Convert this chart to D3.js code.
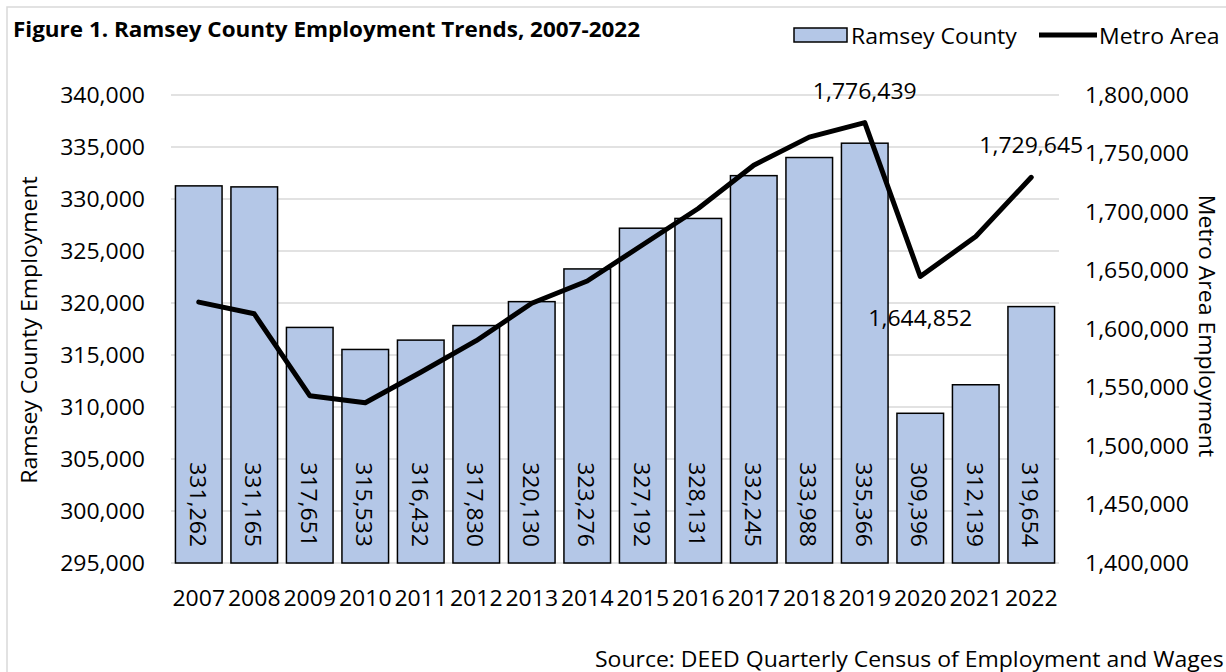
<!DOCTYPE html>
<html><head><meta charset="utf-8">
<script src="https://cdn.jsdelivr.net/npm/d3@7"></script>
<style>
html,body{margin:0;padding:0;background:#fff;}
svg{display:block;font-family:"Open Sans",sans-serif;}
</style></head>
<body><svg id="c" width="1226" height="672"></svg>
<script>
const years = ["2007","2008","2009","2010","2011","2012","2013","2014","2015","2016","2017","2018","2019","2020","2021","2022"];
const ramsey = [331262,331165,317651,315533,316432,317830,320130,323276,327192,328131,332245,333988,335366,309396,312139,319654];
const metro = [1623000,1613000,1543000,1537000,1563000,1590000,1622000,1641000,1672000,1703000,1740000,1764000,1776439,1644852,1679000,1729645];
const metroLabelled = {"2019":"above","2020":"below","2022":"above"};
const leftTicks = [295000,300000,305000,310000,315000,320000,325000,330000,335000,340000];
const rightTicks = [1400000,1450000,1500000,1550000,1600000,1650000,1700000,1750000,1800000];

const svg = d3.select("#c");
const fmt = d3.format(",");
const L = 171, R = 1059, T = 95, B = 563;

// outer frame
svg.append("rect").attr("x",7).attr("y",7).attr("width",1240).attr("height",700)
  .attr("fill","none").attr("stroke","#d9d9d9").attr("stroke-width",1.5);

const x = d3.scaleBand().domain(years).range([L,R]).paddingInner(0.16).paddingOuter(0.08);
const yL = d3.scaleLinear().domain([295000,340000]).range([B,T]);
const yR = d3.scaleLinear().domain([1400000,1800000]).range([B,T]);

// gridlines
svg.append("g").selectAll("line").data(leftTicks).join("line")
  .attr("x1",L).attr("x2",R).attr("y1",d=>yL(d)).attr("y2",d=>yL(d))
  .attr("stroke","#d9d9d9").attr("stroke-width",1.5);

// left axis
const axL = d3.axisLeft(yL).tickValues(leftTicks).tickFormat(fmt).tickSize(0).tickPadding(0);
const gL = svg.append("g").attr("transform",`translate(${L-26},0)`).call(axL);
gL.select(".domain").remove();
gL.selectAll("text").attr("font-size",22).attr("font-family","Open Sans").attr("fill","#000");

// right axis
const axR = d3.axisRight(yR).tickValues(rightTicks).tickFormat(fmt).tickSize(0).tickPadding(0);
const gR = svg.append("g").attr("transform",`translate(1085,0)`).call(axR);
gR.select(".domain").remove();
gR.selectAll("text").attr("font-size",22).attr("font-family","Open Sans").attr("fill","#000");

// x axis
const axX = d3.axisBottom(x).tickSize(0).tickPadding(0);
const gX = svg.append("g").attr("transform",`translate(0,${B+27})`).call(axX);
gX.select(".domain").remove();
gX.selectAll("text").attr("font-size",22).attr("font-family","Open Sans").attr("fill","#000");

// bars
svg.append("g").selectAll("rect").data(ramsey).join("rect")
  .attr("x",(d,i)=>x(years[i])).attr("width",x.bandwidth())
  .attr("y",d=>yL(d)).attr("height",d=>yL(295000)-yL(d))
  .attr("fill","#b4c7e7").attr("stroke","#000").attr("stroke-width",1.5);

// bar labels (rotated)
svg.append("g").selectAll("text").data(ramsey).join("text")
  .attr("transform",(d,i)=>`translate(${x(years[i])+x.bandwidth()/2},${B-16}) rotate(90)`)
  .attr("text-anchor","end").attr("dominant-baseline","central")
  .attr("font-size",22).attr("fill","#000").text(d=>fmt(d));

// metro line
const line = d3.line().x((d,i)=>x(years[i])+x.bandwidth()/2).y(d=>yR(d));
svg.append("path").datum(metro).attr("d",line).attr("fill","none")
  .attr("stroke","#000").attr("stroke-width",5).attr("stroke-linejoin","round").attr("stroke-linecap","round");

// metro labels
svg.append("g").selectAll("text").data(metro.map((v,i)=>({v,yr:years[i]})).filter(d=>metroLabelled[d.yr]))
  .join("text")
  .attr("x",d=>x(d.yr)+x.bandwidth()/2)
  .attr("y",d=>metroLabelled[d.yr]==="above" ? yR(d.v)-24 : yR(d.v)+49)
  .attr("text-anchor","middle").attr("font-size",22).attr("fill","#000").text(d=>fmt(d.v));

// axis titles
svg.append("text").attr("transform","translate(28,330) rotate(-90)").attr("text-anchor","middle")
  .attr("dominant-baseline","central").attr("font-size",22).text("Ramsey County Employment");
svg.append("text").attr("transform","translate(1208,326) rotate(90)").attr("text-anchor","middle")
  .attr("dominant-baseline","central").attr("font-size",22).text("Metro Area Employment");

// legend
svg.append("rect").attr("x",794).attr("y",28).attr("width",53).attr("height",14)
  .attr("fill","#b4c7e7").attr("stroke","#000").attr("stroke-width",1.5);
svg.append("text").attr("x",851).attr("y",35).attr("dominant-baseline","central").attr("font-size",22).text("Ramsey County");
svg.append("line").attr("x1",1039).attr("x2",1097).attr("y1",35).attr("y2",35).attr("stroke","#000").attr("stroke-width",5);
svg.append("text").attr("x",1099).attr("y",35).attr("dominant-baseline","central").attr("font-size",22).text("Metro Area");

// source
svg.append("text").attr("x",595).attr("y",667).attr("font-size",22).text("Source: DEED Quarterly Census of Employment and Wages");

// widen all text slightly to match the reference's wider rendering
svg.selectAll("text").each(function(){
  const len = this.getComputedTextLength();
  if (len > 0) d3.select(this).attr("textLength", len*1.045).attr("lengthAdjust","spacingAndGlyphs");
});

// title (stretched to the reference width)
const title = svg.append("text").attr("x",13).attr("y",37).attr("font-weight","bold").attr("font-size",20.5)
  .text("Figure 1. Ramsey County Employment Trends, 2007-2022");
title.attr("textLength",627).attr("lengthAdjust","spacingAndGlyphs");
</script></body></html>
